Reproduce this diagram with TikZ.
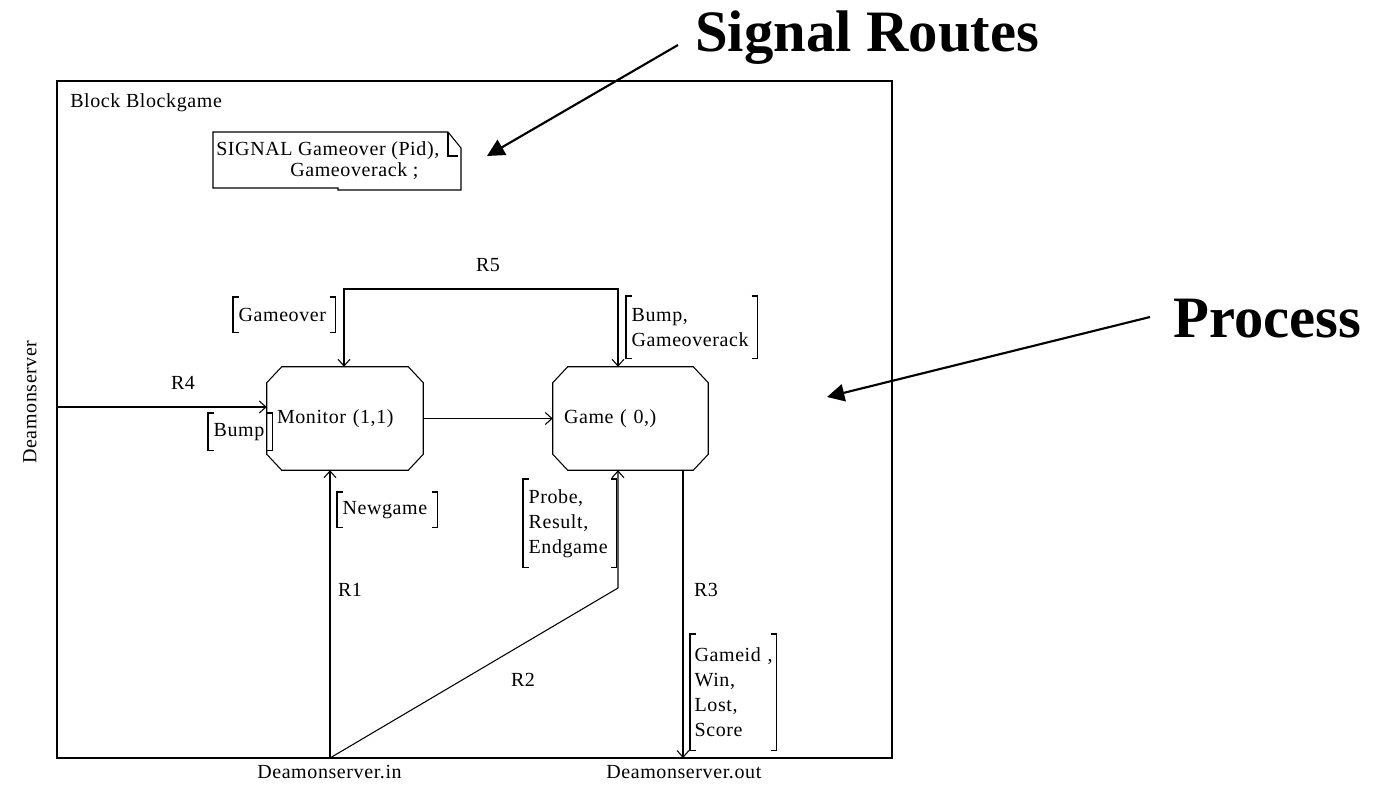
\documentclass[tikz,border=0pt]{standalone}
\usepackage{fontspec}
\setmainfont{Liberation Serif}
\newfontfamily\difamily[LetterSpace=3]{Liberation Serif}
\usetikzlibrary{arrows.meta}

\newcommand{\difont}{\difamily\fontsize{15}{18.75}\selectfont}

% octagonal process outline drawn round a named node
\newcommand{\octa}[1]{%
  \draw[wire] ([xshift=11.25pt]#1.north west) -- ([xshift=-11.25pt]#1.north east)
    -- ([yshift=-12pt]#1.north east) -- ([yshift=12pt]#1.south east)
    -- ([xshift=-11.25pt]#1.south east) -- ([xshift=11.25pt]#1.south west)
    -- ([yshift=12pt]#1.south west) -- ([yshift=-12pt]#1.north west) -- cycle;}

% square brackets round a signal list
\newcommand{\brackets}[1]{%
  \draw[wire] ([xshift=4.5pt]#1.north west) -- (#1.north west) -- (#1.south west) -- ([xshift=4.5pt]#1.south west)
              ([xshift=-4.5pt]#1.north east) -- (#1.north east) -- (#1.south east) -- ([xshift=-4.5pt]#1.south east);}

\tikzset{
  wire/.style={line width=0.8pt},
  barb/.tip={Straight Barb[length=5pt,width=9pt]},
  sigarrow/.style={wire,-barb},
  sigboth/.style={wire,barb-barb},
  proc/.style={minimum height=77.25pt, inner xsep=7.5pt, inner ysep=0pt, align=left, font=\difont},
  siglist/.style={anchor=north west, inner xsep=4pt, inner ysep=0pt, align=left, font=\difont},
  plain/.style={font=\difont, inner sep=0pt},
  callout/.style={line width=1.6pt,-{Triangle[length=13pt,width=13pt]}},
  big/.style={font=\fontsize{44}{50}\selectfont\bfseries, inner sep=0pt, anchor=base west}
}

\begin{document}
\begin{tikzpicture}[x=0.75pt,y=-0.75pt]
\useasboundingbox (0,0) rectangle (1382,795);

% block frame
\draw[wire] (57,81) rectangle (892,758);
\node[plain, anchor=base west] (blk) at (70,108) {Block Blockgame};

% signal declaration note
\draw[wire] (213,132) -- (448,132) -- (461,148) -- (461,190) -- (338,190) -- (338,188) -- (213,188) -- cycle;
\draw[wire] (448,132) -- (448,156) -- (458,156);
\node[plain, anchor=base west] (sig1) at (216,156) {SIGNAL\ Gameover (Pid),};
\node[plain, anchor=base west] (sig2) at (290,177) {Gameoverack ;};

% processes
\node[proc, text width=102pt] (mon) at (345,418.5) {Monitor (1,1)};
\node[proc, text width=99.75pt, inner xsep=8.25pt] (game) at (630.5,418.5) {Game ( 0,)};
\octa{mon}
\octa{game}

% route end points
\coordinate (r4in) at (57,407);
\coordinate (dsin) at (330,758);
\coordinate (dsout) at (683,758);
\coordinate (r2bend) at (618,588);
\coordinate (r5l) at (344,289);
\coordinate (r5r) at (618,289);

% signal routes
\draw[sigarrow] (r4in) -- (r4in -| mon.west);
\draw[sigarrow] (mon.east) -- (game.west);
\draw[sigboth] (r5l |- mon.north) -- (r5l) -- (r5r) -- (r5r |- game.north);
\draw[sigarrow] (dsin) -- (dsin |- mon.south);
\draw[sigarrow] (dsin) -- (r2bend) -- (r2bend |- game.south);
\draw[sigarrow] (dsout |- game.south) -- (dsout);

% route names
\node[plain] (lr5) at (488,265) {R5};
\node[plain] (lr4) at (183,383) {R4};
\node[plain] (lr1) at (350,590) {R1};
\node[plain] (lr2) at (523,680) {R2};
\node[plain] (lr3) at (706,590) {R3};

% signal lists
\node[siglist, text width=68.5pt, minimum height=26.25pt] (lgo) at (233,297) {Gameover};
\node[siglist, text width=90.25pt, minimum height=46.5pt] (lbg) at (626,296) {Bump,\\Gameoverack};
\node[siglist, text width=40pt, minimum height=27.75pt] (lbu) at (208,413) {Bump};
\node[siglist, text width=67pt, minimum height=26.25pt] (lng) at (337,492) {Newgame};
\node[siglist, text width=61.75pt, minimum height=66pt] (lpr) at (523,479) {Probe,\\Result,\\Endgame};
\node[siglist, text width=58pt, inner xsep=3.25pt, minimum height=87pt] (lgi) at (690,634) {\mbox{Gameid ,}\\Win,\\Lost,\\Score};
\brackets{lgo}
\brackets{lbg}
\brackets{lbu}
\brackets{lng}
\brackets{lpr}
\brackets{lgi}

% environment
\node[plain, rotate=90] (env) at (30,402) {Deamonserver};
\node[plain, anchor=base west] (envin) at (257,778) {Deamonserver.in};
\node[plain, anchor=base west] (envout) at (606,778) {Deamonserver.out};

% callouts
\node[big] (tsr) at (695,52) {Signal Routes};
\node[big] (tpr) at (1173,337) {Process};
\coordinate (srfrom) at (678,45);
\coordinate (srto) at (487,156);
\coordinate (prfrom) at (1150,317);
\coordinate (prto) at (827,397);
\draw[callout] (srfrom) -- (srto);
\draw[callout] (prfrom) -- (prto);
\end{tikzpicture}
\end{document}
